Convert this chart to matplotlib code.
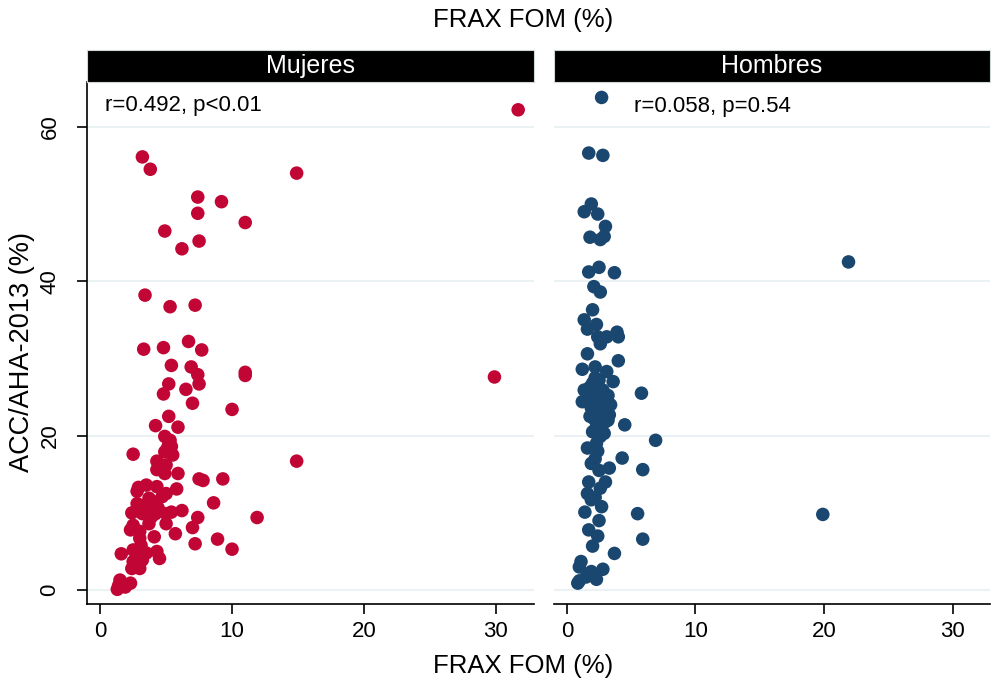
import matplotlib
matplotlib.use("Agg")
import matplotlib.pyplot as plt

plt.rcParams['font.family'] = ['Liberation Sans', 'DejaVu Sans']

# --- Data ---
mujeres_x = [31.7, 3.2, 3.8, 14.9, 7.4, 9.2, 7.4, 11.0, 4.9, 7.5, 6.2, 3.4, 5.3, 7.2,
             6.7, 3.3, 4.8, 7.7, 5.4, 6.9, 7.4, 11.0, 11.0, 29.9, 5.2, 7.5, 6.5, 4.8,
             7.0, 10.0, 5.2, 4.2, 5.9, 4.9, 5.3, 5.2, 5.4, 5.1, 4.9, 5.5, 2.5, 14.9,
             4.3, 5.0, 4.3, 4.9, 5.9, 7.5, 7.8, 9.3, 2.9, 3.5, 4.3, 2.8, 5.0, 5.8,
             3.7, 4.2, 4.7, 2.8, 3.4, 3.9, 4.4, 5.4, 6.2, 8.6, 11.9, 2.4, 3.2, 4.2,
             5.0, 7.4, 3.9, 2.5, 3.7, 5.0, 7.0, 2.3, 3.0, 5.7, 4.1, 3.0, 8.9, 7.2,
             3.1, 1.6, 2.8, 3.5, 4.3, 4.5, 2.5, 2.5, 3.2, 2.4, 3.0, 2.7, 1.5, 1.4,
             1.9, 2.3, 1.3, 1.6, 10.0]
mujeres_y = [62.2, 56.1, 54.5, 54.0, 50.9, 50.3, 48.8, 47.6, 46.5, 45.2, 44.2, 38.2, 36.7, 36.9,
             32.2, 31.2, 31.4, 31.1, 29.1, 28.9, 27.9, 28.2, 27.8, 27.6, 26.7, 26.7, 26.0, 25.4,
             24.2, 23.4, 22.5, 21.3, 21.1, 19.9, 19.4, 19.2, 18.6, 18.4, 17.9, 17.5, 17.6, 16.7,
             16.7, 16.2, 15.6, 15.1, 15.1, 14.4, 14.2, 14.4, 13.3, 13.6, 13.4, 12.8, 12.5, 13.1,
             11.9, 11.4, 12.1, 11.2, 11.0, 10.8, 10.6, 10.1, 10.3, 11.3, 9.4, 10.0, 9.9, 9.9,
             9.9, 9.4, 9.5, 8.4, 8.6, 8.6, 8.1, 7.8, 7.6, 7.3, 6.9, 6.7, 6.6, 6.0,
             5.8, 4.7, 4.5, 4.8, 5.0, 4.1, 5.2, 3.7, 3.9, 2.8, 2.8, 3.1, 1.3, 0.6,
             0.4, 0.9, 0.1, 1.0, 5.3]

hombres_x = [2.7, 1.7, 2.8, 1.9, 1.35, 2.4, 3.0, 1.8, 2.6, 2.9, 1.7, 2.5, 3.7, 2.1,
             2.6, 2.0, 1.35, 2.3, 1.6, 3.9, 2.4, 3.1, 4.0, 2.6, 1.6, 4.0, 1.2, 2.2,
             3.1, 3.6, 2.5, 1.35, 5.8, 1.2, 21.9,
             1.8, 2.1, 2.4, 2.8, 3.2, 1.7, 2.0, 2.3, 2.6, 3.0, 3.4, 1.9, 2.2, 2.5,
             2.8, 3.1, 3.3, 1.8, 2.1, 2.4, 2.7, 3.0, 2.3, 2.6, 2.0, 3.2, 2.9, 2.2, 2.0,
             4.5, 6.9, 2.6, 2.9, 1.6, 2.4, 2.3, 4.3, 1.9, 2.2, 3.3, 5.9, 2.5, 1.7,
             3.0, 2.6, 1.6, 1.9, 2.2, 1.4, 2.7, 5.5, 19.9, 2.5, 1.7, 2.4, 2.0, 5.9,
             3.7, 1.1, 0.97, 1.9, 2.8, 2.3, 0.97, 0.85, 1.5, 2.0]
hombres_y = [63.8, 56.6, 56.3, 50.0, 49.0, 48.7, 47.1, 45.7, 45.4, 45.8, 41.2, 41.8, 41.1, 39.3,
             38.6, 36.3, 35.0, 34.4, 33.8, 33.4, 32.8, 32.8, 32.8, 31.9, 30.6, 29.7, 28.6, 28.9,
             28.3, 27.0, 27.2, 25.9, 25.5, 24.4, 42.5,
             26.3, 25.8, 25.5, 25.9, 25.2, 24.8, 24.5, 24.2, 24.6, 24.3, 24.0, 23.6, 23.2, 23.5,
             23.0, 23.4, 22.7, 22.5, 22.2, 22.0, 22.4, 21.8, 21.2, 20.8, 20.5, 22.0, 25.3, 27.5, 26.8,
             21.4, 19.4, 19.9, 20.3, 18.4, 18.0, 19.0, 17.1, 16.4, 17.0, 15.8, 15.6, 15.5, 14.0,
             14.0, 13.2, 12.5, 11.7, 12.0, 10.1, 10.8, 9.9, 9.8, 9.0, 7.8, 7.0, 5.7, 6.6,
             4.75, 3.7, 3.0, 2.4, 2.7, 1.4, 1.2, 0.9, 1.7, 2.0]

panel_titles = ['Mujeres', 'Hombres']
annotations = ['r=0.492, p<0.01', 'r=0.058, p=0.54']
colors = ['#c10534', '#1a476f']
x_ticks = [0, 10, 20, 30]
y_ticks = [0, 20, 40, 60]

W, H = 991, 688
fig = plt.figure(figsize=(W / 100, H / 100), dpi=100)
fig.patch.set_facecolor('white')

panels = [(87, 534), (554, 990)]
top, bottom = 82, 604
series = [(mujeres_x, mujeres_y), (hombres_x, hombres_y)]
ann_pos = [(0.4, 62.8), (5.2, 62.6)]

for i, (x0, x1) in enumerate(panels):
    ax = fig.add_axes([x0 / W, 1 - bottom / H, (x1 - x0) / W, (bottom - top) / H])
    xs, ys = series[i]
    ax.scatter(xs, ys, s=95, color=colors[i], edgecolors='none', zorder=3)
    ax.set_xlim(-1.0, 32.9)
    ax.set_ylim(-1.8, 65.8)
    ax.set_yticks(y_ticks)
    ax.set_xticks(x_ticks)
    ax.grid(axis='y', color='#eaf2f3', linewidth=1.5, zorder=0)
    ax.set_axisbelow(True)
    for s in ['top', 'right']:
        ax.spines[s].set_visible(False)
    ax.spines['bottom'].set_linewidth(1.2)
    ax.spines['left'].set_linewidth(1.2)
    ax.tick_params(axis='x', length=7, width=1.2, labelsize=16, pad=5)
    if i == 0:
        ax.tick_params(axis='y', length=7, width=1.2, labelsize=16, pad=12)
        for lbl in ax.get_yticklabels():
            lbl.set_rotation(90)
            lbl.set_va('center')
    else:
        ax.spines['left'].set_visible(False)
        ax.tick_params(axis='y', left=False, labelleft=False)
    ax.text(ann_pos[i][0], ann_pos[i][1], annotations[i], fontsize=16,
            va='center', ha='left')

    # strip header
    sx = fig.add_axes([x0 / W, 1 - 82 / H, (x1 - x0) / W, 32 / H])
    sx.set_facecolor('black')
    sx.set_xticks([])
    sx.set_yticks([])
    for s in sx.spines.values():
        s.set_edgecolor('#cfd6d8')
        s.set_linewidth(0.8)
    sx.text(0.5, 0.5, panel_titles[i], color='white', fontsize=18,
            ha='center', va='center', transform=sx.transAxes)

fig.text(523 / W, 1 - 20 / H, 'FRAX FOM (%)', fontsize=18.5, ha='center', va='center')
fig.text(523 / W, 1 - 666 / H, 'FRAX FOM (%)', fontsize=18.5, ha='center', va='center')
fig.text(22 / W, 1 - 352 / H, 'ACC/AHA-2013 (%)', fontsize=19.5, ha='center',
         va='center', rotation=90)

fig.savefig('out.png', dpi=100)
